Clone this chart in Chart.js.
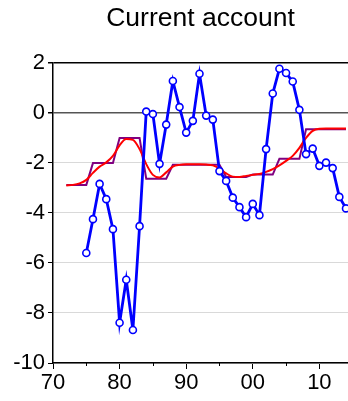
<!DOCTYPE html>
<html>
<head>
<meta charset="utf-8">
<script src="https://cdn.jsdelivr.net/npm/chart.js@4"></script>
<style>
  html, body { margin: 0; padding: 0; background: #fff; }
</style>
</head>
<body>
<canvas id="chart" width="348" height="401"></canvas>
<script>
// current account, annual
const years = [1975,1976,1977,1978,1979,1980,1981,1982,1983,1984,1985,1986,1987,1988,1989,1990,1991,1992,1993,1994,
               1995,1996,1997,1998,1999,2000,2001,2002,2003,2004,2005,2006,2007,2008,2009,2010,2011,2012,2013,2014];
const currentAccount = [-5.6,-4.25,-2.84,-3.45,-4.65,-8.39,-6.67,-8.68,-4.53,0.05,-0.05,-2.04,-0.47,1.27,0.23,-0.79,-0.32,1.56,-0.11,-0.27,
                        -2.33,-2.72,-3.39,-3.77,-4.17,-3.64,-4.09,-1.45,0.77,1.76,1.59,1.25,0.12,-1.65,-1.43,-2.12,-1.99,-2.21,-3.36,-3.82];

// regime means and smoothed fit, 1972-2014
const fitYears = [1972,1973,1974,1975,1976,1977,1978,1979,1980,1981,1982,1983,1984,1985,1986,1987,1988,1989,1990,1991,1992,
                  1993,1994,1995,1996,1997,1998,1999,2000,2001,2002,2003,2004,2005,2006,2007,2008,2009,2010,2011,2012,2013,2014];
const regimeMean = [-2.88,-2.88,-2.88,-2.88,-2.01,-2.01,-2.01,-2.01,-1.01,-1.01,-1.01,-1.01,-2.63,-2.63,-2.63,-2.63,
                    -2.08,-2.08,-2.08,-2.08,-2.08,-2.08,-2.08,-2.08,-2.56,-2.56,-2.56,-2.56,-2.47,-2.47,-2.47,-2.47,
                    -1.84,-1.84,-1.84,-1.84,-0.66,-0.66,-0.66,-0.66,-0.66,-0.66,-0.66];
const smoothed = [-2.9,-2.88,-2.82,-2.68,-2.40,-2.15,-1.98,-1.72,-1.30,-1.05,-1.08,-1.45,-2.05,-2.48,-2.58,-2.38,-2.15,-2.08,-2.06,-2.06,-2.06,
                  -2.07,-2.10,-2.22,-2.42,-2.55,-2.56,-2.52,-2.48,-2.44,-2.36,-2.25,-2.10,-1.92,-1.72,-1.40,-1.00,-0.72,-0.64,-0.63,-0.63,-0.63,-0.63];

const yTicks = [-10,-8,-6,-4,-2,0,2];

const pts = (xs, ys) => xs.map((x, i) => ({ x: x, y: ys[i] }));

// short ticks at the half decades
const minorTicks = {
  id: 'minorTicks',
  afterDraw(chart) {
    const sx = chart.scales.x, ctx = chart.ctx;
    ctx.save();
    ctx.strokeStyle = '#000';
    ctx.lineWidth = 1;
    sx.ticks.forEach(t => {
      if (t.value % 10 !== 0) {
        const px = Math.round(sx.getPixelForValue(t.value)) + 0.5;
        ctx.beginPath();
        ctx.moveTo(px, sx.top);
        ctx.lineTo(px, sx.top + 3);
        ctx.stroke();
      }
    });
    ctx.restore();
  }
};

new Chart(document.getElementById('chart'), {
  type: 'line',
  data: {
    datasets: [
      { data: pts(years, currentAccount), borderColor: '#0000ff', borderWidth: 2.8, tension: 0,
        pointRadius: 3.5, pointBorderWidth: 1.6, pointBackgroundColor: '#fff', pointBorderColor: '#0000ff' },
      { data: pts(fitYears, smoothed), borderColor: '#ff0000', borderWidth: 2, pointRadius: 0,
        cubicInterpolationMode: 'monotone' },
      { data: pts(fitYears, regimeMean), borderColor: '#800080', borderWidth: 2, pointRadius: 0, tension: 0 }
    ]
  },
  options: {
    responsive: false,
    animation: false,
    devicePixelRatio: 1,
    layout: { padding: 0, autoPadding: false },
    plugins: {
      legend: { display: false },
      tooltip: { enabled: false },
      title: {
        display: true, text: 'Current account', fullSize: false, color: '#000',
        font: { family: 'Liberation Sans', size: 26.5, weight: 'normal', lineHeight: 1.2 },
        padding: { top: 3, bottom: 28 }
      }
    },
    scales: {
      x: {
        type: 'linear', min: 1970, max: 2014.3,
        afterFit: s => { s.height = 38; s.paddingLeft = 0; s.paddingRight = 0; },
        border: { color: '#000', width: 1.5 },
        grid: { drawOnChartArea: false, tickLength: 6,
                tickColor: c => (c.tick && c.tick.value % 10 === 0) ? '#000' : 'rgba(0,0,0,0)' },
        ticks: { stepSize: 5, includeBounds: false, autoSkip: false, maxRotation: 0, padding: 1, color: '#000',
                 font: { family: 'Liberation Sans', size: 22 },
                 callback: v => v % 10 === 0 ? String(v % 100).padStart(2, '0') : '' }
      },
      y: {
        min: -10, max: 2,
        afterFit: s => { s.width = 53; },
        afterBuildTicks: s => { s.ticks = yTicks.map(v => ({ value: v })); },
        border: { color: '#000', width: 1.5 },
        grid: { tickLength: 5, tickColor: '#000',
                color: c => c.tick.value === 2 ? '#000' : c.tick.value === 0 ? '#555' : '#d9d9d9',
                lineWidth: c => (c.tick.value === 2 || c.tick.value === 0) ? 1.5 : 1 },
        ticks: { padding: 3, color: '#000', font: { family: 'Liberation Sans', size: 22 } }
      }
    }
  },
  plugins: [minorTicks]
});
</script>
</body>
</html>
